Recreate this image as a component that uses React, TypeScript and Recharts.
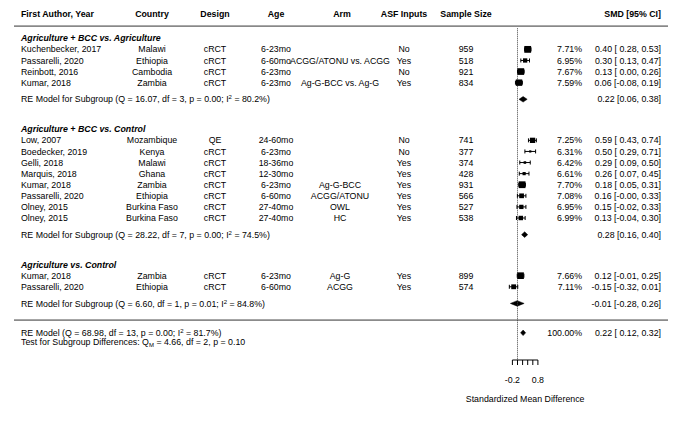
import React from "react";
import {
  ComposedChart,
  Scatter,
  XAxis,
  YAxis,
  ErrorBar,
  ReferenceLine,
  ReferenceArea,
} from "recharts";

// subgroups
const groupTitles = [
  "Agriculture + BCC vs. Agriculture",
  "Agriculture + BCC vs. Control",
  "Agriculture vs. Control",
];

// studies
const studyGroup = [0, 0, 0, 0, 1, 1, 1, 1, 1, 1, 1, 1, 2, 2];
const authors = [
  "Kuchenbecker, 2017",
  "Passarelli, 2020",
  "Reinbott, 2016",
  "Kumar, 2018",
  "Low, 2007",
  "Boedecker, 2019",
  "Gelli, 2018",
  "Marquis, 2018",
  "Kumar, 2018",
  "Passarelli, 2020",
  "Olney, 2015",
  "Olney, 2015",
  "Kumar, 2018",
  "Passarelli, 2020",
];
const countries = [
  "Malawi", "Ethiopia", "Cambodia", "Zambia",
  "Mozambique", "Kenya", "Malawi", "Ghana", "Zambia", "Ethiopia", "Burkina Faso", "Burkina Faso",
  "Zambia", "Ethiopia",
];
const designs = [
  "cRCT", "cRCT", "cRCT", "cRCT",
  "QE", "cRCT", "cRCT", "cRCT", "cRCT", "cRCT", "cRCT", "cRCT",
  "cRCT", "cRCT",
];
const ages = [
  "6-23mo", "6-60mo", "6-23mo", "6-23mo",
  "24-60mo", "6-23mo", "18-36mo", "12-30mo", "6-23mo", "6-60mo", "27-40mo", "27-40mo",
  "6-23mo", "6-60mo",
];
const arms = [
  "", "ACGG/ATONU vs. ACGG", "", "Ag-G-BCC vs. Ag-G",
  "", "", "", "", "Ag-G-BCC", "ACGG/ATONU", "OWL", "HC",
  "Ag-G", "ACGG",
];
const asfInputs = [
  "No", "Yes", "No", "Yes",
  "No", "No", "Yes", "Yes", "Yes", "Yes", "Yes", "Yes",
  "Yes", "Yes",
];
const sampleSizes = [959, 518, 921, 834, 741, 377, 374, 428, 931, 566, 527, 538, 899, 574];
const weights = [7.71, 6.95, 7.67, 7.59, 7.25, 6.31, 6.42, 6.61, 7.7, 7.08, 6.95, 6.99, 7.66, 7.11];
const smd = [0.4, 0.3, 0.13, 0.06, 0.59, 0.5, 0.29, 0.26, 0.18, 0.16, 0.15, 0.13, 0.12, -0.15];
const ciLow = [0.28, 0.13, 0.0, -0.08, 0.43, 0.29, 0.09, 0.07, 0.05, -0.004, -0.02, -0.04, -0.01, -0.32];
const ciHigh = [0.53, 0.47, 0.26, 0.19, 0.74, 0.71, 0.5, 0.45, 0.31, 0.33, 0.33, 0.3, 0.25, 0.01];

// subgroup random-effects models
const subQ = [16.07, 28.22, 6.6];
const subDf = [3, 7, 1];
const subP = [0.0, 0.0, 0.01];
const subI2 = [80.2, 74.5, 84.8];
const subEst = [0.22, 0.28, -0.01];
const subLow = [0.06, 0.16, -0.28];
const subHigh = [0.38, 0.4, 0.26];

// overall model
const overallQ = 68.98;
const overallDf = 13;
const overallP = 0.0;
const overallI2 = 81.7;
const overallEst = 0.22;
const overallLow = 0.12;
const overallHigh = 0.32;
const testQM = 4.66;
const testDf = 2;
const testP = 0.1;

const xTicks = [-0.2, 0, 0.2, 0.4, 0.6, 0.8];
const xLabelled = [-0.2, 0.8];

const FONT = "'Liberation Sans', Arial, sans-serif";
const FS = 8.8;
const Y_MAX = 32;

// build rows (top to bottom)
const textRows: any[] = [];
const studyRows: any[] = [];
const summaryRows: any[] = [];
textRows.push({ x: 0, y: 0.8, kind: "header" });
textRows.push({ x: 0, y: 1.9, kind: "rule" });
let r = 3.0;
let lastSub = 0;
groupTitles.forEach((title, g) => {
  textRows.push({ x: 0, y: r, kind: "title", text: title });
  r += 1;
  authors.forEach((_, i) => {
    if (studyGroup[i] !== g) return;
    studyRows.push({ x: smd[i], y: r, err: [smd[i] - ciLow[i], ciHigh[i] - smd[i]], w: weights[i] });
    textRows.push({ x: 0, y: r, kind: "study", i });
    r += 1;
  });
  r += 0.5;
  summaryRows.push({ lo: subLow[g], hi: subHigh[g], y: r });
  textRows.push({ x: 0, y: r, kind: "sub", g });
  lastSub = r;
  r += 2.7;
});
textRows.push({ x: 0, y: lastSub + 1.5, kind: "rule" });
summaryRows.push({ lo: overallLow, hi: overallHigh, y: lastSub + 2.65 });
textRows.push({ x: 0, y: lastSub + 2.65, kind: "overall" });
textRows.push({ x: 0, y: lastSub + 3.5, kind: "test" });

const f2 = (v: number) => v.toFixed(2);
const pad = (v: number) => (f2(v).startsWith("-") ? f2(v) : " " + f2(v));
const studyCI = (e: number, lo: number, hi: number) => `${f2(e)} [${pad(lo)}, ${f2(hi)}]`;
const plainCI = (e: number, lo: number, hi: number) => `${f2(e)} [${f2(lo)}, ${f2(hi)}]`;

const T = ({ x, y, anchor = "start", bold = false, italic = false, children }: any) => (
  <text
    x={x}
    y={y}
    dy="0.35em"
    textAnchor={anchor}
    fontSize={FS}
    fontWeight={bold ? "bold" : "normal"}
    fontStyle={italic ? "italic" : "normal"}
    fill="#000"
    xmlSpace="preserve"
    style={{ whiteSpace: "pre", fontFamily: FONT }}
  >
    {children}
  </text>
);

const I2 = ({ v }: { v: number }) => (
  <>
    {"I"}
    <tspan dy={-3} fontSize={6}>2</tspan>
    <tspan dy={3}>{` = ${v.toFixed(1)}%)`}</tspan>
  </>
);

const RowText = (p: any) => {
  const d = p.payload;
  const y = p.cy;
  if (d.kind === "header") {
    return (
      <g>
        <T x={21} y={y} bold>First Author, Year</T>
        <T x={152} y={y} anchor="middle" bold>Country</T>
        <T x={215} y={y} anchor="middle" bold>Design</T>
        <T x={276} y={y} anchor="middle" bold>Age</T>
        <T x={342} y={y} anchor="middle" bold>Arm</T>
        <T x={404} y={y} anchor="middle" bold>ASF Inputs</T>
        <T x={466} y={y} anchor="middle" bold>Sample Size</T>
        <T x={661} y={y} anchor="end" bold>SMD [95% CI]</T>
      </g>
    );
  }
  if (d.kind === "rule") {
    return <line x1={14} x2={668} y1={y} y2={y} stroke="#333" strokeWidth={1} />;
  }
  if (d.kind === "title") {
    return <T x={21} y={y} bold italic>{d.text}</T>;
  }
  if (d.kind === "study") {
    const i = d.i;
    return (
      <g>
        <T x={21} y={y}>{authors[i]}</T>
        <T x={152} y={y} anchor="middle">{countries[i]}</T>
        <T x={215} y={y} anchor="middle">{designs[i]}</T>
        <T x={276} y={y} anchor="middle">{ages[i]}</T>
        <T x={340} y={y} anchor="middle">{arms[i]}</T>
        <T x={404} y={y} anchor="middle">{asfInputs[i]}</T>
        <T x={466} y={y} anchor="middle">{String(sampleSizes[i])}</T>
        <T x={582} y={y} anchor="end">{weights[i].toFixed(2) + "%"}</T>
        <T x={661} y={y} anchor="end">{studyCI(smd[i], ciLow[i], ciHigh[i])}</T>
      </g>
    );
  }
  if (d.kind === "sub") {
    const g = d.g;
    return (
      <g>
        <T x={21} y={y}>
          {`RE Model for Subgroup (Q = ${f2(subQ[g])}, df = ${subDf[g]}, p = ${f2(subP[g])}; `}
          <I2 v={subI2[g]} />
        </T>
        <T x={661} y={y} anchor="end">{plainCI(subEst[g], subLow[g], subHigh[g])}</T>
      </g>
    );
  }
  if (d.kind === "overall") {
    return (
      <g>
        <T x={21} y={y}>
          {`RE Model (Q = ${f2(overallQ)}, df = ${overallDf}, p = ${f2(overallP)}; `}
          <I2 v={overallI2} />
        </T>
        <T x={582} y={y} anchor="end">100.00%</T>
        <T x={661} y={y} anchor="end">{studyCI(overallEst, overallLow, overallHigh)}</T>
      </g>
    );
  }
  if (d.kind === "test") {
    return (
      <T x={21} y={y}>
        {"Test for Subgroup Differences: Q"}
        <tspan dy={2} fontSize={6}>M</tspan>
        <tspan dy={-2}>{` = ${f2(testQM)}, df = ${testDf}, p = ${f2(testP)}`}</tspan>
      </T>
    );
  }
  return <g />;
};

const wMin = Math.min(...weights);
const wMax = Math.max(...weights);
const Square = (p: any) => {
  const s = 2.2 + 4.6 * ((p.payload.w - wMin) / (wMax - wMin));
  return <rect x={p.cx - s / 2} y={p.cy - s / 2} width={s} height={s} fill="#000" />;
};

const Diamond = (p: any) => {
  const { x, y, width, height } = p;
  const pts = `${x},${y + height / 2} ${x + width / 2},${y} ${x + width},${y + height / 2} ${x + width / 2},${y + height}`;
  return <polygon points={pts} fill="#000" stroke="#000" strokeWidth={0.5} />;
};

const App = () => {
  return (
    <div
      style={{
        position: "absolute",
        left: 0,
        top: 0,
        width: 684,
        height: 427,
        background: "#fff",
        fontFamily: FONT,
      }}
    >
      <ComposedChart
        width={684}
        height={427}
        margin={{ top: 5, right: 115.5, bottom: 37, left: 466.5 }}
      >
        <XAxis
          type="number"
          dataKey="x"
          domain={[-2, 2]}
          ticks={xTicks}
          interval={0}
          tickFormatter={(v: number) => (xLabelled.includes(v) ? String(v) : "")}
          axisLine={false}
          tickLine={{ stroke: "#000" }}
          tickSize={5}
          tickMargin={12}
          tick={{ fill: "#000", fontSize: FS }}
          height={30}
        />
        <YAxis type="number" dataKey="y" domain={[0, Y_MAX]} reversed hide />
        <ReferenceLine
          segment={[{ x: 0, y: 2.1 }, { x: 0, y: Y_MAX }]}
          stroke="#444"
          strokeDasharray="1 1"
          ifOverflow="visible"
        />
        <ReferenceLine
          segment={[{ x: -0.2, y: Y_MAX }, { x: 0.8, y: Y_MAX }]}
          stroke="#000"
          ifOverflow="visible"
          label={{
            value: "Standardized Mean Difference",
            position: "bottom",
            offset: 36,
            fill: "#000",
            fontSize: FS,
          }}
        />
        <Scatter data={textRows} shape={RowText} isAnimationActive={false} />
        <Scatter data={studyRows} shape={Square} isAnimationActive={false}>
          <ErrorBar
            dataKey="err"
            direction="x"
            width={2}
            stroke="#000"
            strokeWidth={1}
            isAnimationActive={false}
          />
        </Scatter>
        {summaryRows.map((s, k) => (
          <ReferenceArea
            key={k}
            x1={s.lo}
            x2={s.hi}
            y1={s.y - 0.25}
            y2={s.y + 0.25}
            ifOverflow="visible"
            shape={Diamond}
          />
        ))}
      </ComposedChart>
    </div>
  );
};

export default App;
